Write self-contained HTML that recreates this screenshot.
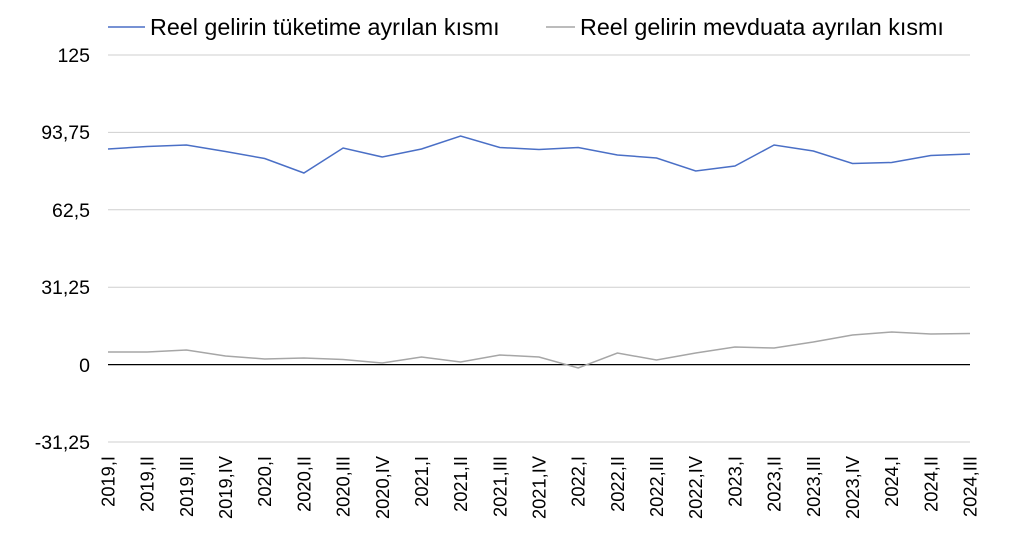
<!DOCTYPE html>
<html><head><meta charset="utf-8"><style>body{margin:0;background:#fff}svg{display:block}</style></head>
<body>
<svg width="1024" height="540" xmlns="http://www.w3.org/2000/svg" font-family="Liberation Sans, Arial, sans-serif">
<g stroke="#cfcfcf" stroke-width="1">
<line x1="108" y1="55" x2="970" y2="55"/>
<line x1="108" y1="132.4" x2="970" y2="132.4"/>
<line x1="108" y1="209.8" x2="970" y2="209.8"/>
<line x1="108" y1="287.2" x2="970" y2="287.2"/>
<line x1="108" y1="442" x2="970" y2="442"/>
</g>
<line x1="108" y1="364.6" x2="970" y2="364.6" stroke="#000" stroke-width="1.3"/>
<g font-size="19.5" text-anchor="end" fill="#000">
<text x="90" y="62">125</text>
<text x="90" y="139">93,75</text>
<text x="90" y="217">62,5</text>
<text x="90" y="294">31,25</text>
<text x="90" y="372">0</text>
<text x="90" y="449">-31,25</text>
</g>
<line x1="108" y1="27" x2="145" y2="27" stroke="#4a6fc6" stroke-width="1.5"/>
<text x="150" y="35" font-size="23.3">Reel gelirin tüketime ayrılan kısmı</text>
<line x1="546" y1="27" x2="575" y2="27" stroke="#a6a6a6" stroke-width="1.5"/>
<text x="580" y="35" font-size="23.3">Reel gelirin mevduata ayrılan kısmı</text>
<polyline fill="none" stroke="#4a6fc6" stroke-width="1.5" points="108,149 147.2,146.5 186.4,145 225.5,151.5 264.7,158.5 303.9,173 343.1,148 382.3,157 421.5,149 460.6,136 499.8,147.5 539,149.5 578.2,147.5 617.4,155 656.5,158 695.7,171 734.9,166 774.1,145 813.3,151 852.5,163.5 891.6,162.5 930.8,155.5 970,154"/>
<polyline fill="none" stroke="#a6a6a6" stroke-width="1.5" points="108,352 147.2,352 186.4,350 225.5,356 264.7,359 303.9,358 343.1,359.5 382.3,363 421.5,357 460.6,362 499.8,355 539,357 578.2,368 617.4,353 656.5,360 695.7,353 734.9,347 774.1,348 813.3,342 852.5,335 891.6,332 930.8,334 970,333.5"/>
<g font-size="18.3" text-anchor="end" fill="#000">
<text transform="translate(114.5,456) rotate(-90)">2019,I</text>
<text transform="translate(153.7,456) rotate(-90)">2019,II</text>
<text transform="translate(192.9,456) rotate(-90)">2019,III</text>
<text transform="translate(232,456) rotate(-90)">2019,IV</text>
<text transform="translate(271.2,456) rotate(-90)">2020,I</text>
<text transform="translate(310.4,456) rotate(-90)">2020,II</text>
<text transform="translate(349.6,456) rotate(-90)">2020,III</text>
<text transform="translate(388.8,456) rotate(-90)">2020,IV</text>
<text transform="translate(428,456) rotate(-90)">2021,I</text>
<text transform="translate(467.1,456) rotate(-90)">2021,II</text>
<text transform="translate(506.3,456) rotate(-90)">2021,III</text>
<text transform="translate(545.5,456) rotate(-90)">2021,IV</text>
<text transform="translate(584.7,456) rotate(-90)">2022,I</text>
<text transform="translate(623.9,456) rotate(-90)">2022,II</text>
<text transform="translate(663,456) rotate(-90)">2022,III</text>
<text transform="translate(702.2,456) rotate(-90)">2022,IV</text>
<text transform="translate(741.4,456) rotate(-90)">2023,I</text>
<text transform="translate(780.6,456) rotate(-90)">2023,II</text>
<text transform="translate(819.8,456) rotate(-90)">2023,III</text>
<text transform="translate(859,456) rotate(-90)">2023,IV</text>
<text transform="translate(898.1,456) rotate(-90)">2024,I</text>
<text transform="translate(937.3,456) rotate(-90)">2024,II</text>
<text transform="translate(976.5,456) rotate(-90)">2024,III</text>
</g>
</svg>
</body></html>
